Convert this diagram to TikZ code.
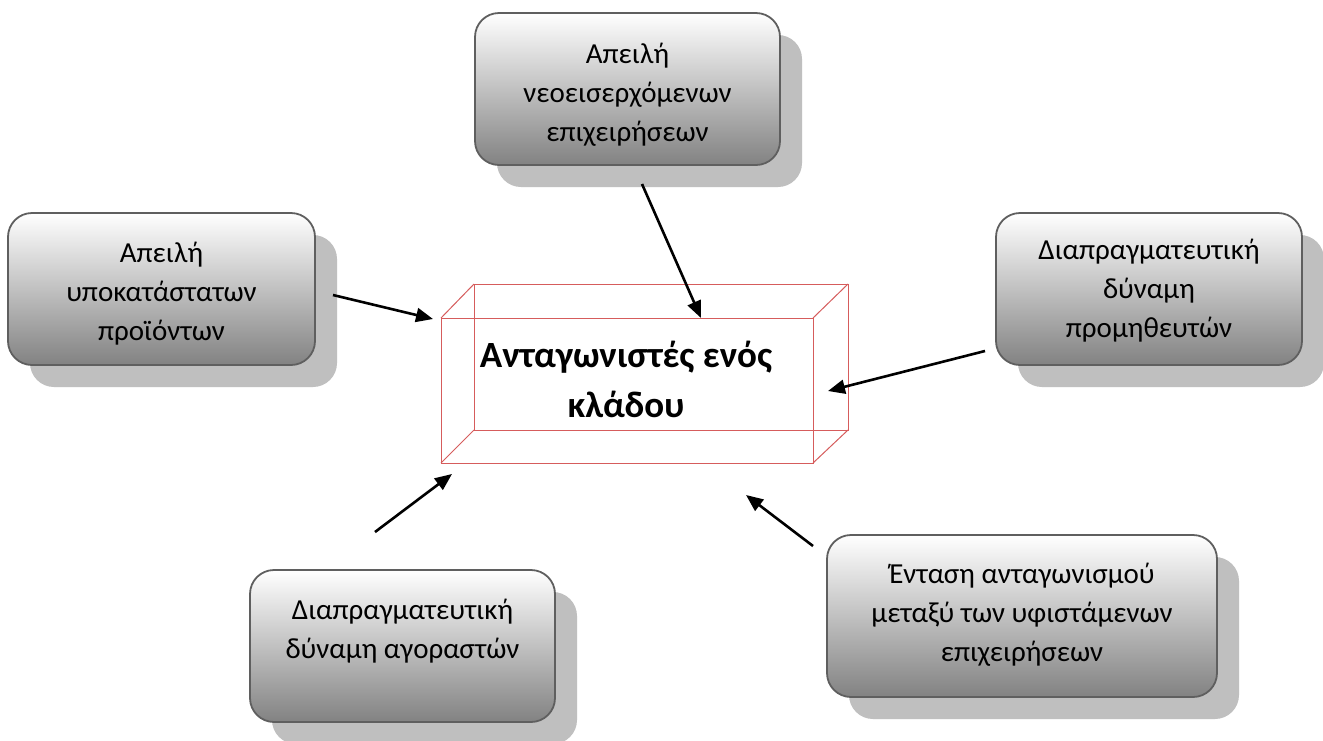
\documentclass[tikz,border=0pt]{standalone}
\usepackage{fontspec}
\setmainfont{Carlito}
\usetikzlibrary{arrows.meta,shadows}
\definecolor{shadowgray}{RGB}{191,191,191}
\definecolor{boxline}{RGB}{95,95,95}
\definecolor{gradmid}{RGB}{230,230,230}
\definecolor{gradbot}{RGB}{130,130,130}
\definecolor{cubered}{RGB}{214,92,92}
\tikzset{
  forcebox/.style={draw=boxline, line width=1.8pt, rounded corners=24pt,
    top color=white, middle color=gradmid, bottom color=gradbot,
    general shadow={fill=shadowgray, shadow xshift=22pt, shadow yshift=-22pt},
    inner sep=0pt, minimum width=305pt, minimum height=152pt},
  forcetext/.style={anchor=base, align=center, inner sep=0pt,
    font=\fontsize{29}{39}\selectfont},
  titletext/.style={anchor=base, align=center, inner sep=0pt,
    font=\bfseries\fontsize{37}{50}\selectfont},
  cubeedge/.style={draw=cubered, line width=1pt},
  force/.style={line width=2.6pt, -{Triangle[length=17pt,width=14pt]}}
}
\begin{document}
\begin{tikzpicture}[x=1pt,y=-1pt]
\useasboundingbox[fill=white] (0,0) rectangle (1323,740);

% boxes
\node[forcebox] (newb) at (627.5,89) {};
\node[forcebox, minimum width=307pt] (subb) at (161.5,289) {};
\node[forcebox, minimum width=306pt] (supb) at (1149,289) {};
\node[forcebox] (buyb) at (402.5,646) {};
\node[forcebox, minimum width=390pt, minimum height=162pt] (rivb) at (1022,616) {};

% texts (anchor base = baseline of the last line)
\node[forcetext] (newt) at (627.5,141) {Απειλή\\νεοεισερχόμενων\\επιχειρήσεων};
\node[forcetext] (subt) at (161.5,340) {Απειλή\\υποκατάστατων\\προϊόντων};
\node[forcetext] (supt) at (1149,337) {Διαπραγματευτική\\δύναμη\\προμηθευτών};
\node[forcetext] (buyt) at (402.5,658) {Διαπραγματευτική\\δύναμη αγοραστών};
\node[forcetext] (rivt) at (1022,661) {Ένταση ανταγωνισμού\\μεταξύ των υφιστάμενων\\επιχειρήσεων};

% cube
\coordinate (f1) at (441,318);
\coordinate (f2) at (813,318);
\coordinate (f3) at (813,463);
\coordinate (f4) at (441,463);
\coordinate (b1) at (474,284);
\coordinate (b2) at (848,284);
\coordinate (b3) at (848,430);
\coordinate (b4) at (474,430);
\draw[cubeedge] (b1) -- (b2) -- (b3) -- (b4) -- cycle;
\draw[cubeedge] (f1) -- (b1) (f2) -- (b2) (f3) -- (b3) (f4) -- (b4);
\draw[cubeedge] (f1) -- (f2) -- (f3) -- (f4) -- cycle;
\node[titletext] (title) at (626,417) {Ανταγωνιστές ενός\\κλάδου};

% arrow end points
\coordinate (a1s) at (642,184);
\coordinate (a1e) at (701,318);
\coordinate (a2s) at (333,295);
\coordinate (a2e) at (433,319);
\coordinate (a3s) at (985,351);
\coordinate (a3e) at (828,391);
\coordinate (a4s) at (375,532);
\coordinate (a4e) at (452,474);
\coordinate (a5s) at (813,546);
\coordinate (a5e) at (746,495);
\draw[force] (a1s) -- (a1e);
\draw[force] (a2s) -- (a2e);
\draw[force] (a3s) -- (a3e);
\draw[force] (a4s) -- (a4e);
\draw[force] (a5s) -- (a5e);
\end{tikzpicture}
\end{document}
